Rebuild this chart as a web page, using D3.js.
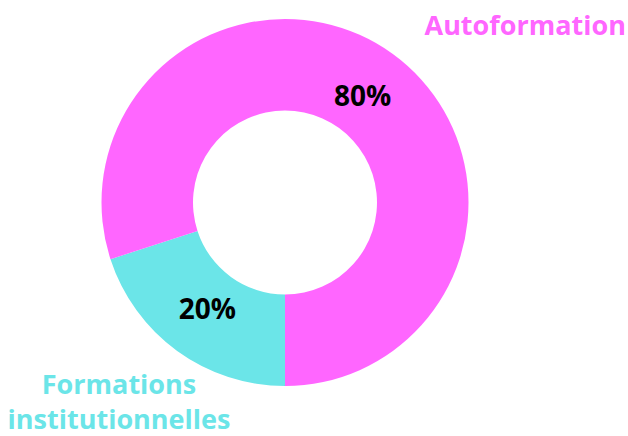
<!DOCTYPE html>
<html>
<head>
<meta charset="utf-8">
<script src="https://cdn.jsdelivr.net/npm/d3@7"></script>
<style>
  body { margin: 0; background: #fff; }
  text { font-family: "Source Sans Pro", "Open Sans", "Noto Sans", sans-serif; font-weight: 700; }
</style>
</head>
<body>
<div id="chart"></div>
<script>
const categories = ["Formations institutionnelles", "Autoformation"];
const values = [20, 80];
const colors = ["#6be5e8", "#ff66ff"];

const width = 628;
const height = 436;
const cx = 285;
const cy = 202.5;
const outerRadius = 183.5;
const innerRadius = 92;

const svg = d3.select("#chart")
    .append("svg")
    .attr("width", width)
    .attr("height", height);

const pie = d3.pie()
    .sort(null)
    .value(d => d)
    .startAngle(Math.PI)
    .endAngle(3 * Math.PI);

const arc = d3.arc()
    .innerRadius(innerRadius)
    .outerRadius(outerRadius);

// labels sit a bit inside the ring's middle
const labelArc = d3.arc()
    .innerRadius(132)
    .outerRadius(132);

const g = svg.append("g")
    .attr("transform", `translate(${cx},${cy})`);

const arcs = pie(values);

g.selectAll("path")
    .data(arcs)
    .join("path")
    .attr("fill", (d, i) => colors[i])
    .attr("d", arc);

const total = d3.sum(values);
g.selectAll("text.pct")
    .data(arcs)
    .join("text")
    .attr("class", "pct")
    .attr("transform", d => `translate(${labelArc.centroid(d)})`)
    .attr("text-anchor", "middle")
    .attr("dy", "0.36em")
    .attr("font-size", 28)
    .attr("fill", "#000")
    .text(d => Math.round(d.data / total * 100) + "%");

// category labels
svg.append("text")
    .attr("x", 626)
    .attr("y", 35)
    .attr("text-anchor", "end")
    .attr("font-size", 27)
    .attr("fill", colors[1])
    .text(categories[1]);

const lab = svg.append("text")
    .attr("x", 119)
    .attr("y", 394)
    .attr("text-anchor", "middle")
    .attr("font-size", 27)
    .attr("fill", colors[0]);
lab.append("tspan").attr("x", 119).text("Formations");
lab.append("tspan").attr("x", 119).attr("dy", 35).text("institutionnelles");
</script>
</body>
</html>
